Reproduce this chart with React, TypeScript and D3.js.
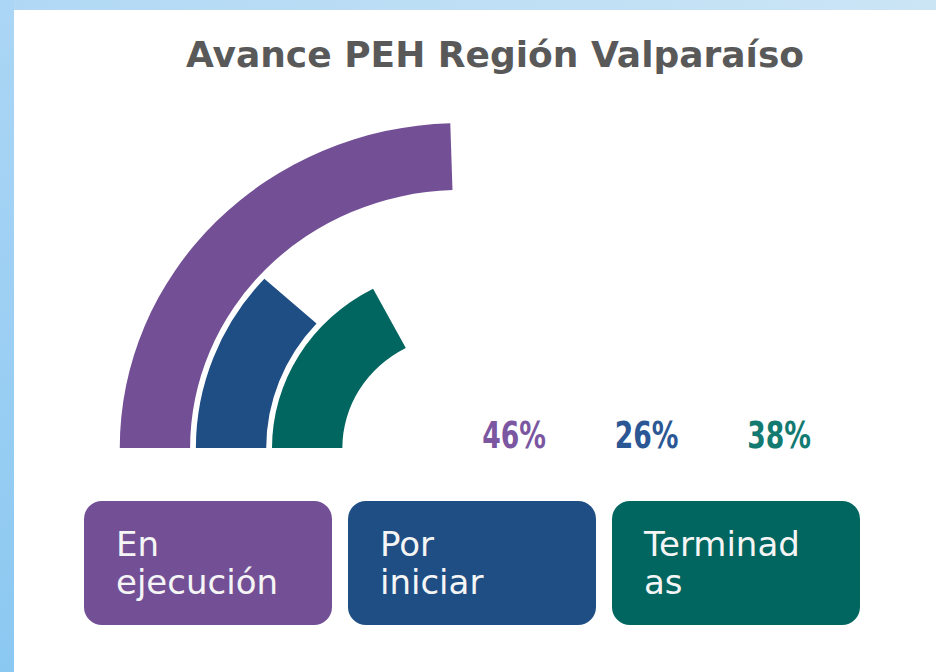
import React from "react";
import * as d3 from "d3";

// ---- data ----
const categories = ["En ejecución", "Por iniciar", "Terminadas"];
const labelLines = [["En", "ejecución"], ["Por", "iniciar"], ["Terminad", "as"]];
const percentLabels = [46, 26, 38];
// arc sweep, as a share of a half circle
const arcShare = [0.49, 0.234, 0.346];
const colors = ["#735096", "#1f4e84", "#00665f"];
const labelColors = ["#7b56a1", "#2b5794", "#137a72"];
const title = "Avance PEH Región Valparaíso";

const W = 936;
const H = 672;

export default function App() {
  const cx = 461;
  const cy = 448;

  // rings: outermost is first category
  const radius = d3
    .scaleBand<string>()
    .domain([...categories].reverse())
    .range([113, 325])
    .paddingInner(0.076)
    .paddingOuter(0);

  const angle = d3.scaleLinear().domain([0, 1]).range([-Math.PI / 2, Math.PI / 2]);

  const arcGen = d3.arc<any>();

  const boxX = d3.scaleBand<string>().domain(categories).range([84, 860]).paddingInner(0.0606);
  const pctX = d3.scalePoint<string>().domain(categories).range([514, 779]);

  return (
    <svg
      width={W}
      height={H}
      viewBox={`0 0 ${W} ${H}`}
      style={{ position: "absolute", left: 0, top: 0, display: "block" }}
    >
      <defs>
        <linearGradient id="leftBorder" x1="0" y1="0" x2="0" y2="1">
          <stop offset="0%" stopColor="#acd6f5" />
          <stop offset="100%" stopColor="#8bc8f1" />
        </linearGradient>
        <linearGradient id="topBorder" x1="0" y1="0" x2="1" y2="0">
          <stop offset="0%" stopColor="#b0d8f5" />
          <stop offset="100%" stopColor="#cbe5f5" />
        </linearGradient>
      </defs>
      <rect x={0} y={0} width={W} height={H} fill="#ffffff" />
      <rect x={0} y={0} width={W} height={10} fill="url(#topBorder)" />
      <rect x={0} y={0} width={14} height={H} fill="url(#leftBorder)" />

      <text
        x={495}
        y={67}
        textAnchor="middle"
        fontFamily="DejaVu Sans, sans-serif"
        fontWeight={700}
        fontSize={36}
        fill="#595959"
      >
        {title}
      </text>

      <g transform={`translate(${cx},${cy}) scale(1.05,1)`}>
        {categories.map((c, i) => {
          const inner = radius(c)!;
          const outer = inner + radius.bandwidth();
          const d = arcGen({
            innerRadius: inner,
            outerRadius: outer,
            startAngle: angle(0),
            endAngle: angle(arcShare[i]),
          });
          return <path key={c} d={d || ""} fill={colors[i]} />;
        })}
      </g>

      {categories.map((c, i) => (
        <g key={"p" + c} transform={`translate(${pctX(c)},448) scale(0.8,1)`}>
          <text
            x={0}
            y={0}
            textAnchor="middle"
            fontFamily="DejaVu Sans Condensed, DejaVu Sans, sans-serif"
            fontWeight={700}
            fontSize={37}
            fill={labelColors[i]}
          >
            {percentLabels[i]}%
          </text>
        </g>
      ))}

      {categories.map((c, i) => {
        const x = boxX(c)!;
        return (
          <g key={"b" + c}>
            <rect x={x} y={501} width={boxX.bandwidth()} height={124} rx={18} ry={18} fill={colors[i]} />
            {labelLines[i].map((line, j) => (
              <text
                key={j}
                x={x + 32}
                y={556 + j * 38}
                fontFamily="DejaVu Sans, sans-serif"
                fontSize={34}
                fill="#f5f5f5"
              >
                {line}
              </text>
            ))}
          </g>
        );
      })}
    </svg>
  );
}
